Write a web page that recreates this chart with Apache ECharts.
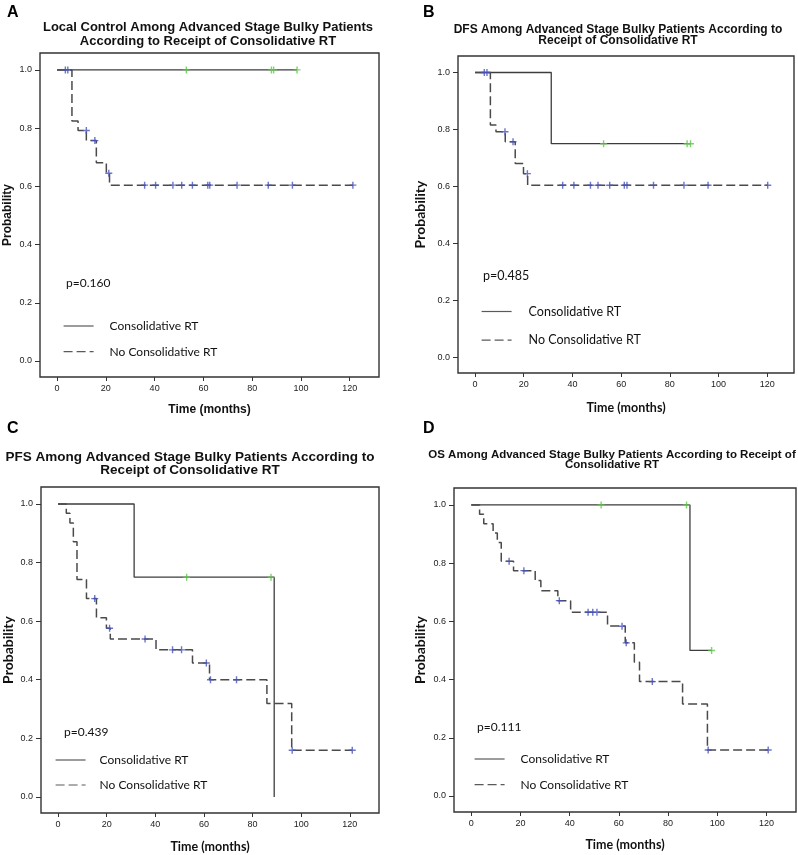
<!DOCTYPE html>
<html><head><meta charset="utf-8">
<script src="https://cdn.jsdelivr.net/npm/echarts@6/dist/echarts.min.js"></script>
<style>html,body{margin:0;padding:0;background:#fff}#c{width:798px;height:855px}</style>
</head><body><div id="c"></div>
<script>
// ---------- data ----------
const xTicks = [0, 20, 40, 60, 80, 100, 120];
const yTicks = [0, 0.2, 0.4, 0.6, 0.8, 1.0];
const groupNames = ['Consolidative RT', 'No Consolidative RT'];
const panelLetters = ['A', 'B', 'C', 'D'];
const panelTitles = [
  'Local Control Among Advanced Stage Bulky Patients\nAccording to Receipt of Consolidative RT',
  'DFS Among Advanced Stage Bulky Patients According to\nReceipt of Consolidative RT',
  'PFS Among Advanced Stage Bulky Patients According to\nReceipt of Consolidative RT',
  'OS Among Advanced Stage Bulky Patients According to Receipt of\nConsolidative RT'
];
const pValues = ['p=0.160', 'p=0.485', 'p=0.439', 'p=0.111'];
const xTitle = 'Time (months)';
const yTitle = 'Probability';

// Panel A: Local control  [time, survival]
const aConsCurve = [[0, 1], [98.4, 1]];
const aConsCensor = [[53.0, 1], [87.9, 1], [88.8, 1], [98.4, 1]];
const aNoCurve = [[0, 1], [6.1, 0.824], [8.6, 0.792], [12.0, 0.757], [16.1, 0.681], [20.2, 0.645], [21.5, 0.604], [121.3, 0.604]];
const aNoCensor = [[3.4, 1], [4.4, 1], [12.0, 0.792], [15.5, 0.757], [21.2, 0.645], [35.9, 0.604], [40.4, 0.604], [47.5, 0.604], [51.1, 0.604], [55.5, 0.604], [61.8, 0.604], [62.6, 0.604], [73.8, 0.604], [86.6, 0.604], [96.5, 0.604], [121.3, 0.604]];

// Panel B: DFS
const bConsCurve = [[0, 1], [31.3, 0.75], [88.5, 0.75]];
const bConsCensor = [[52.8, 0.75], [87.1, 0.75], [88.5, 0.75]];
const bNoCurve = [[0, 1], [6.3, 0.816], [8.6, 0.792], [12.4, 0.757], [16.5, 0.681], [19.9, 0.645], [21.6, 0.604], [120.2, 0.604]];
const bNoCensor = [[3.8, 1], [4.9, 1], [12.3, 0.792], [15.6, 0.757], [21.5, 0.645], [36.0, 0.604], [40.6, 0.604], [47.4, 0.604], [50.5, 0.604], [55.3, 0.604], [61.3, 0.604], [62.4, 0.604], [73.3, 0.604], [85.8, 0.604], [95.7, 0.604], [120.2, 0.604]];

// Panel C: PFS
const cConsCurve = [[0, 1], [31.3, 0.75], [88.9, 0]];
const cConsCensor = [[52.9, 0.75], [87.6, 0.75]];
const cNoCurve = [[0, 1], [3.4, 0.968], [4.9, 0.935], [6.3, 0.871], [7.8, 0.742], [11.7, 0.677], [15.8, 0.612], [19.9, 0.576], [21.5, 0.539], [40.3, 0.502], [55.3, 0.457], [62.3, 0.400], [85.9, 0.319], [96.1, 0.159], [121.0, 0.159]];
const cNoCensor = [[15.1, 0.677], [21.2, 0.576], [35.8, 0.539], [47.1, 0.502], [50.8, 0.502], [61.0, 0.457], [62.7, 0.400], [73.4, 0.400], [96.3, 0.159], [121.0, 0.159]];

// Panel D: OS
const dConsCurve = [[0, 1], [88.9, 0.5], [97.7, 0.5]];
const dConsCensor = [[52.8, 1], [87.5, 1], [97.7, 0.5]];
const dNoCurve = [[0, 1], [3.4, 0.968], [5.1, 0.935], [8.9, 0.903], [10.6, 0.871], [12.2, 0.806], [17.2, 0.774], [26.0, 0.740], [28.3, 0.705], [35.2, 0.671], [40.4, 0.631], [55.4, 0.584], [62.6, 0.526], [66.3, 0.459], [68.4, 0.393], [85.9, 0.316], [96.0, 0.158], [120.7, 0.158]];
const dNoCensor = [[15.4, 0.806], [21.4, 0.774], [35.8, 0.671], [47.5, 0.631], [49.4, 0.631], [51.1, 0.631], [61.3, 0.583], [63.0, 0.526], [73.6, 0.393], [96.3, 0.158], [120.7, 0.158]];

// ---------- layout / style ----------
const SANS = 'Liberation Sans';
const HUM = 'Lato';
const panels = [
  { grid: { left: 40, top: 53, width: 339, height: 324 }, xMax: 132,
    curves: [aConsCurve, aNoCurve], censors: [aConsCensor, aNoCensor],
    title: { left: 208, top: 21, size: 13, lh: 13.7 },
    letter: [7, 13], p: [66, 283],
    legend: { left: 63, top: 320, gap: 13.7, size: 12, pad: 11 },
    xName: { font: SANS, size: 12, gap: 27 }, yName: { font: SANS, size: 12, gap: 26 } },
  { grid: { left: 458, top: 56, width: 336, height: 317 }, xMax: 131,
    curves: [bConsCurve, bNoCurve], censors: [bConsCensor, bNoCensor],
    title: { left: 618, top: 24, size: 12, lh: 11 },
    letter: [423, 13], p: [483, 276],
    legend: { left: 481, top: 305, gap: 15.6, size: 12.5, pad: 12 },
    xName: { font: HUM, size: 12.5, gap: 28 }, yName: { font: HUM, size: 14, gap: 31 } },
  { grid: { left: 40, top: 487, width: 339, height: 326 }, xMax: 132,
    curves: [cConsCurve, cNoCurve], censors: [cConsCensor, cNoCensor],
    title: { left: 190, top: 451, size: 13.5, lh: 13 },
    letter: [7, 429], p: [64, 732],
    legend: { left: 55, top: 754, gap: 13, size: 12, pad: 9 },
    xName: { font: HUM, size: 12.5, gap: 27 }, yName: { font: HUM, size: 14, gap: 26 } },
  { grid: { left: 454, top: 488, width: 342, height: 324 }, xMax: 132,
    curves: [dConsCurve, dNoCurve], censors: [dConsCensor, dNoCensor],
    title: { left: 612, top: 449, size: 11.5, lh: 10.7 },
    letter: [423, 429], p: [477, 727],
    legend: { left: 474, top: 753, gap: 13.7, size: 12, pad: 11 },
    xName: { font: HUM, size: 12.5, gap: 26 }, yName: { font: HUM, size: 14, gap: 27 } }
];

const PLUS = 'path://M4,0h2v4h4v2h-4v4h-2v-4h-4v-2h4z';
const censorColors = ['#5fc84a', '#4753b8'];

const option = {
  animation: false,
  backgroundColor: '#ffffff',
  title: [], grid: [], xAxis: [], yAxis: [], series: [], legend: [], graphic: []
};

panels.forEach((p, i) => {
  option.grid.push(Object.assign({ show: true, borderColor: '#333', borderWidth: 1.4, backgroundColor: 'transparent' }, p.grid));
  option.title.push({
    text: panelTitles[i], left: p.title.left, top: p.title.top, textAlign: 'center', padding: 0,
    textStyle: { fontFamily: SANS, fontWeight: 'bold', fontSize: p.title.size, lineHeight: p.title.lh, color: '#111' }
  });
  option.xAxis.push({
    type: 'value', gridIndex: i, min: -7, max: p.xMax, position: 'bottom',
    axisLine: { show: false, onZero: false }, splitLine: { show: false },
    axisTick: { show: true, length: 4, customValues: xTicks, lineStyle: { color: '#333' } },
    axisLabel: { show: true, customValues: xTicks, margin: 7, fontFamily: SANS, fontSize: 9, color: '#222' },
    name: xTitle, nameLocation: 'middle', nameGap: p.xName.gap,
    nameTextStyle: { fontFamily: p.xName.font, fontWeight: 'bold', fontSize: p.xName.size, color: '#111' }
  });
  option.yAxis.push({
    type: 'value', gridIndex: i, min: -0.055, max: 1.058, position: 'left',
    axisLine: { show: false, onZero: false }, splitLine: { show: false },
    axisTick: { show: true, length: 5, customValues: yTicks, lineStyle: { color: '#333' } },
    axisLabel: { show: true, customValues: yTicks, margin: 8, fontFamily: SANS, fontSize: 9, color: '#222',
      formatter: v => v.toFixed(1) },
    name: yTitle, nameLocation: 'middle', nameGap: p.yName.gap,
    nameTextStyle: { fontFamily: p.yName.font, fontWeight: 'bold', fontSize: p.yName.size, color: '#111' }
  });
  option.series.push({
    name: groupNames[0], type: 'line', step: 'end', xAxisIndex: i, yAxisIndex: i,
    data: p.curves[0], symbol: 'none', z: 3,
    lineStyle: { color: '#3d3d3d', width: 1.3, type: 'solid' }, itemStyle: { color: '#3d3d3d' }
  });
  option.series.push({
    name: groupNames[1], type: 'line', step: 'end', xAxisIndex: i, yAxisIndex: i,
    data: p.curves[1], symbol: 'none', z: 3,
    lineStyle: { color: '#4a4a4a', width: 1.5, type: [9, 4] }, itemStyle: { color: '#4a4a4a' }
  });
  option.series.push({
    name: 'Censored: ' + groupNames[0], type: 'scatter', xAxisIndex: i, yAxisIndex: i,
    data: p.censors[0], symbol: PLUS, symbolSize: 7, z: 5, itemStyle: { color: censorColors[0] }
  });
  option.series.push({
    name: 'Censored: ' + groupNames[1], type: 'scatter', xAxisIndex: i, yAxisIndex: i,
    data: p.censors[1], symbol: PLUS, symbolSize: 7, z: 5, itemStyle: { color: censorColors[1] }
  });
  option.legend.push({
    data: groupNames, orient: 'vertical', left: p.legend.left, top: p.legend.top, padding: 0,
    itemWidth: 30, itemHeight: 12, itemGap: p.legend.gap, selectedMode: false,
    itemStyle: { opacity: 0 },
    lineStyle: { color: '#5a5a5a', width: 1.2 },
    textStyle: { fontFamily: HUM, fontSize: p.legend.size, color: '#111', padding: [0, 0, 0, p.legend.pad] }
  });
  option.graphic.push({
    type: 'text', x: p.letter[0], y: p.letter[1],
    style: { text: panelLetters[i], font: 'bold 16px "Liberation Sans"', fill: '#000', verticalAlign: 'middle', align: 'left' }
  });
  option.graphic.push({
    type: 'text', x: p.p[0], y: p.p[1],
    style: { text: pValues[i], font: (i === 1 ? '12.5px' : '12px') + ' Lato', fill: '#111', verticalAlign: 'middle', align: 'left' }
  });
});

const chart = echarts.init(document.getElementById('c'), null, { renderer: 'canvas' });
chart.setOption(option);
</script>
</body></html>
